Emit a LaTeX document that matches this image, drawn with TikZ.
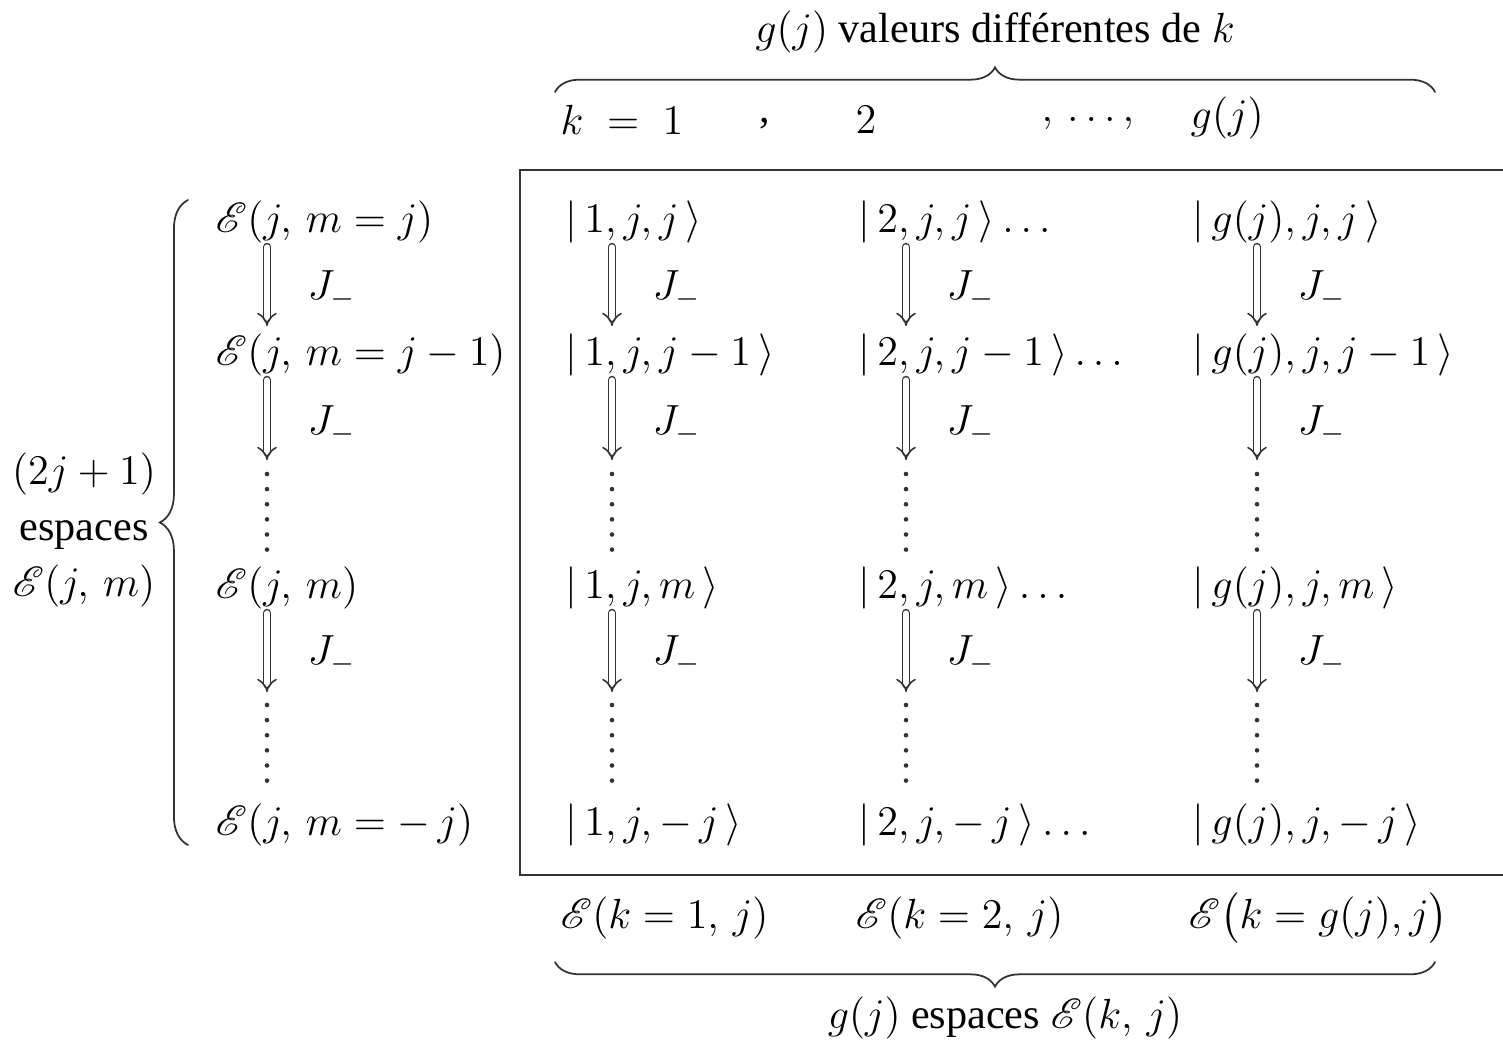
\documentclass[tikz,border=0pt]{standalone}
\usepackage{amsmath,amssymb}
\usepackage{mathrsfs}
\usepackage{fontspec}
\setmainfont{Liberation Serif}
\usetikzlibrary{arrows.meta,positioning,decorations.pathreplacing,calc}
\definecolor{trait}{HTML}{333333}

\begin{document}
\begin{tikzpicture}[x=0.01cm,y=-0.01cm,line cap=round,
    font=\fontsize{12}{14}\selectfont,
    txt/.style={anchor=west,inner sep=0pt},
    jmoins/.style={anchor=west,inner sep=0pt},
    fleche/.style={trait,line width=0.45pt,double distance=1.5pt,-{Implies}},
    points/.style={trait,line width=1.3pt,dash pattern=on 0pt off 4.3pt},
    accolade/.style={trait,line width=0.5pt,decorate,
                     decoration={brace,amplitude=#1,aspect=0.5}}]
    \useasboundingbox (0,0) rectangle (1503,1040);
    % --- en-tete ---
    \node[inner sep=0pt] (titre) at (995,32) {$g(j)$ valeurs différentes de $k$};
    \draw[accolade=7] (555,92) -- (1435,92);
    \node[txt] (k1) at (560,120) {$k\;=\;1$};
    \node[inner sep=0pt] (v1) at (765,124) {,};
    \node[inner sep=0pt] (k2) at (866,120) {$2$};
    \node[inner sep=0pt] (v2) at (1088,124) {$,\,\ldots,$};
    \node[txt] (k3) at (1190,118) {$g(j)$};
    % --- cadre ---
    \draw[trait,line width=0.6pt] (1503,170) -- (520,170) -- (520,875) -- (1503,875);
    % --- colonne de gauche : sous-espaces ---
    \node[txt] (L1) at (215,222) {$\mathscr{E}(j,\, m = j)$};
    \node[txt] (L2) at (215,355) {$\mathscr{E}(j,\, m = j - 1)$};
    \node[txt] (L3) at (215,588) {$\mathscr{E}(j,\, m)$};
    \node[txt] (L4) at (215,825) {$\mathscr{E}(j,\, m = -\,j)$};
    \draw[accolade=8] (188,845) -- (188,200);
    \node[align=center,inner sep=0pt] (nb) at (84,530)
         {$(2j + 1)$\\[2pt]espaces\\[2pt]$\mathscr{E}(j,\,m)$};
    % --- colonnes k = 1, 2, g(j) ---
    \node[txt] (a1) at (565,222) {$|\,1, j, j\,\rangle$};
    \node[txt] (a2) at (565,355) {$|\,1, j, j - 1\,\rangle$};
    \node[txt] (a3) at (565,588) {$|\,1, j, m\,\rangle$};
    \node[txt] (a4) at (565,825) {$|\,1, j, -\,j\,\rangle$};
    \node[txt] (b1) at (858,222) {$|\,2, j, j\,\rangle\ldots$};
    \node[txt] (b2) at (858,355) {$|\,2, j, j - 1\,\rangle\ldots$};
    \node[txt] (b3) at (858,588) {$|\,2, j, m\,\rangle\ldots$};
    \node[txt] (b4) at (858,825) {$|\,2, j, -\,j\,\rangle\ldots$};
    \node[txt] (c1) at (1192,222) {$|\,g(j), j, j\,\rangle$};
    \node[txt] (c2) at (1192,355) {$|\,g(j), j, j - 1\,\rangle$};
    \node[txt] (c3) at (1192,588) {$|\,g(j), j, m\,\rangle$};
    \node[txt] (c4) at (1192,825) {$|\,g(j), j, -\,j\,\rangle$};
    % --- fleches J_- et pointilles ---
    \foreach \c/\x in {L/267,a/612,b/906,c/1257}{
      \foreach \i/\ya/\yb/\yj in {1/247/326/290,2/380/460/425,3/613/692/655}{
        \coordinate (\c h\i) at (\x,\ya);
        \coordinate (\c b\i) at (\x,\yb);
        \draw[fleche] (\c h\i) -- (\c b\i);
        \node[jmoins] (\c j\i) at (\x+40,\yj) {$J_{-}$};
      }
      \coordinate (\c p1) at (\x,474); \coordinate (\c q1) at (\x,550);
      \coordinate (\c p2) at (\x,705); \coordinate (\c q2) at (\x,792);
      \draw[points] (\c p1) -- (\c q1);
      \draw[points] (\c p2) -- (\c q2);
    }
    % --- espaces E(k,j) ---
    \node[txt] (s1) at (560,918) {$\mathscr{E}(k = 1,\, j)$};
    \node[txt] (s2) at (855,918) {$\mathscr{E}(k = 2,\, j)$};
    \node[txt] (s3) at (1188,918) {$\mathscr{E}\bigl(k = g(j), j\bigr)$};
    \draw[accolade=7] (1435,962) -- (555,962);
    \node[inner sep=0pt] (bas) at (1005,1018) {$g(j)$ espaces $\mathscr{E}(k,\,j)$};
\end{tikzpicture}
\end{document}
